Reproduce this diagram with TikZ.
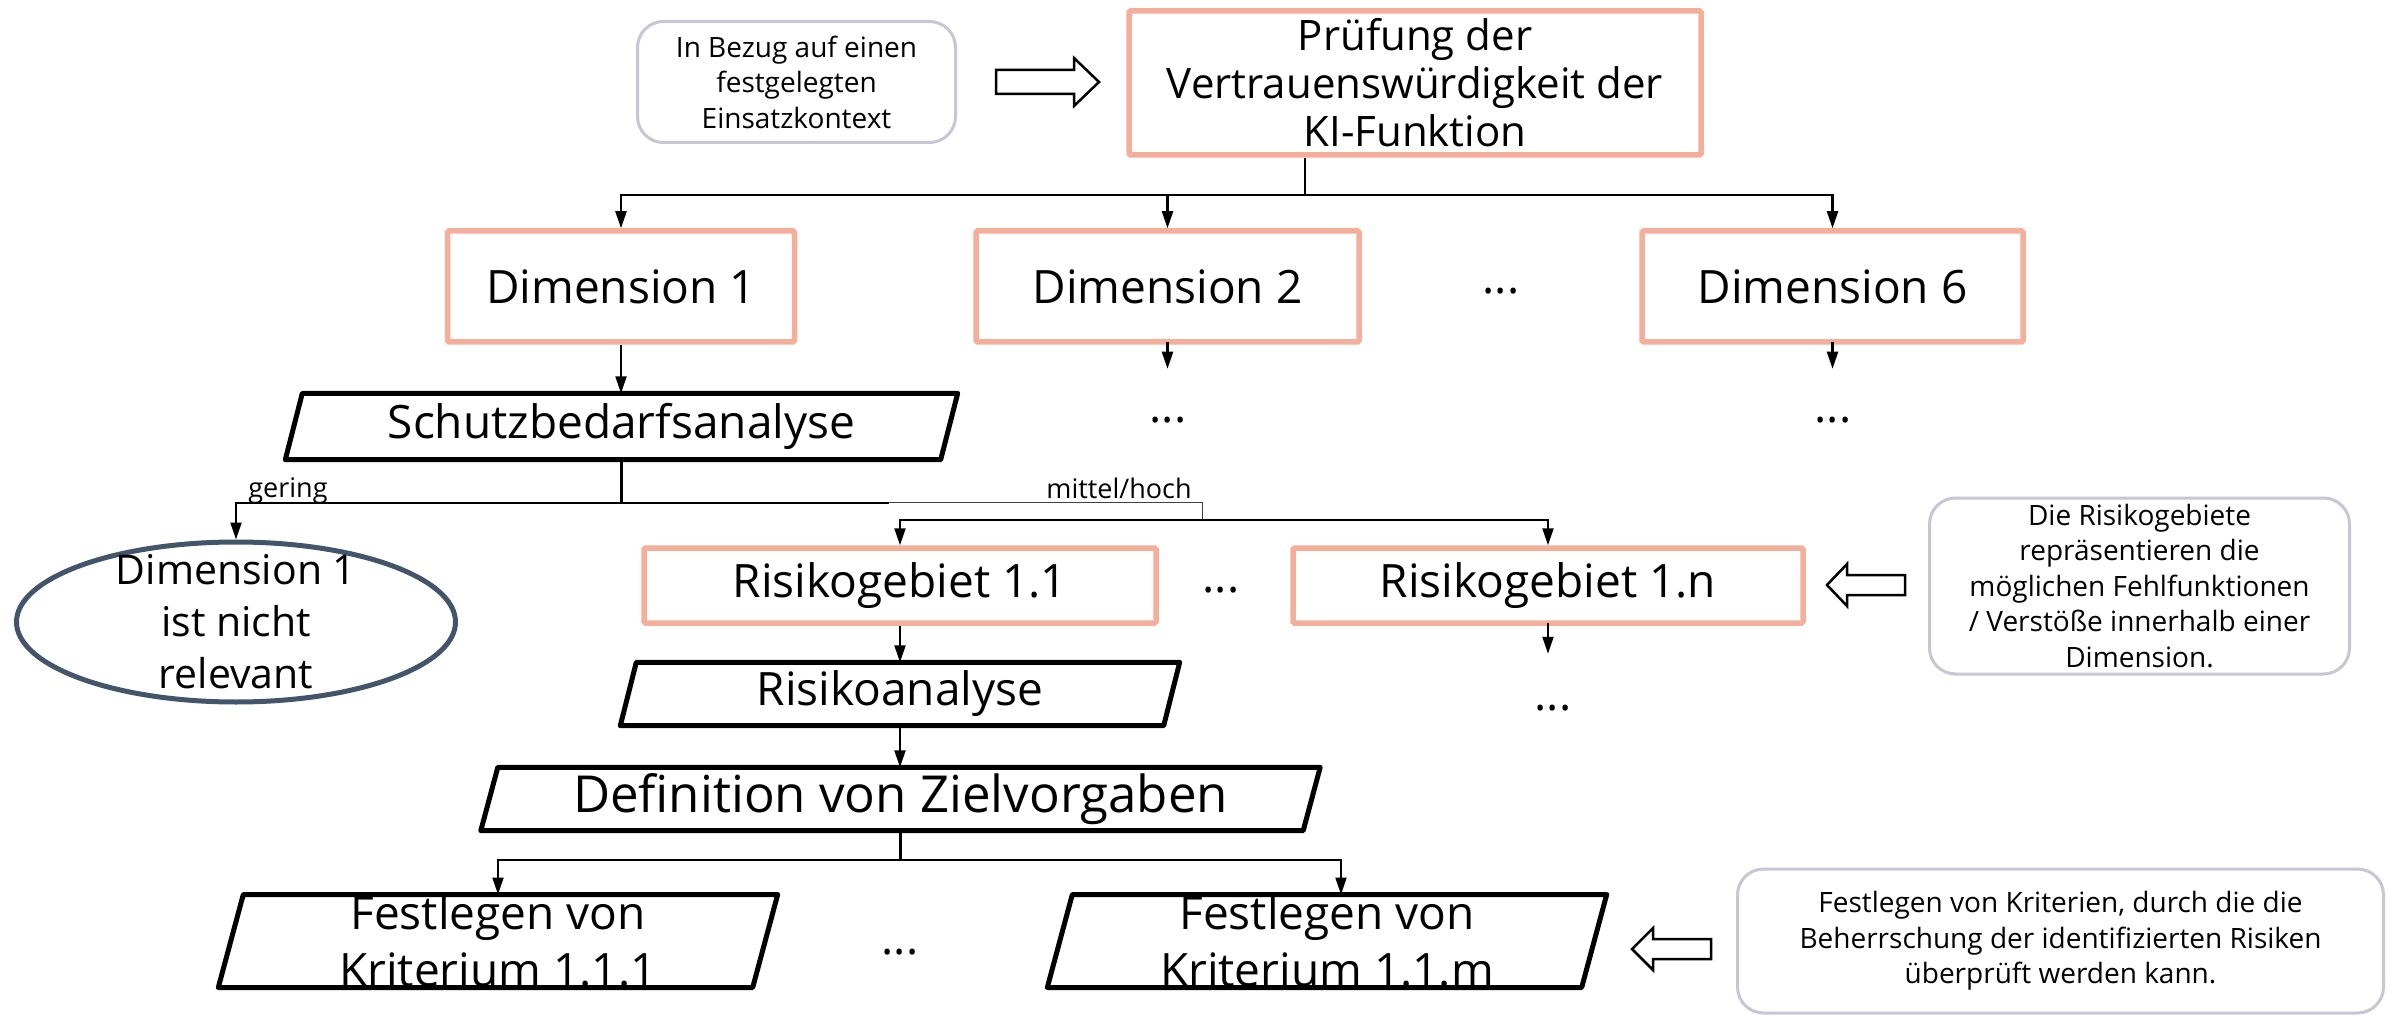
\documentclass[tikz,border=0pt]{standalone}
\usepackage{fontspec}
\setmainfont{Open Sans}
\usetikzlibrary{arrows.meta,shapes.geometric}
\definecolor{salmon}{HTML}{F4AF9B}
\definecolor{slate}{HTML}{44546A}
\definecolor{notegray}{HTML}{C6C6D6}
\newcommand\fBig{\fontsize{46}{55}\selectfont}
\newcommand\fDef{\fontsize{51}{58}\selectfont}
\newcommand\fTop{\fontsize{42}{48}\selectfont}
\newcommand\fEll{\fontsize{41}{52}\selectfont}
\newcommand\fFk{\fontsize{46}{57}\selectfont}
\newcommand\fNote{\fontsize{28}{35.5}\selectfont}
\newcommand\fLab{\fontsize{27}{32}\selectfont}
\begin{document}
\begin{tikzpicture}[x=1pt,y=-1pt,
  conn/.style={line width=2.2pt,black},
  thinconn/.style={line width=1.4pt,black!75},
  arr/.style={conn,-{Triangle[length=17pt,width=11pt]}},
  sbox/.style={draw=salmon,line width=5.5pt,inner sep=0pt,align=center,font=\fBig,rounded corners=1.5pt},
  pnode/.style={inner sep=0pt,align=center,font=\fBig},
  pline/.style={line width=5pt,line join=round,black},
  note/.style={draw=notegray,line width=3pt,rounded corners=26pt,inner sep=0pt,align=center,font=\fNote},
  hollow/.style={draw=black,line width=2.5pt,fill=white,line join=miter},
  dotsn/.style={font=\fBig,inner sep=0pt},
  lab/.style={font=\fLab,inner sep=0pt}
]
\useasboundingbox[fill=white] (0,0) rectangle (2402,1016);

% notes
\node[note,minimum width=318pt,minimum height=121pt] (n1) at (796.5,82) {In Bezug auf einen\\festgelegten\\Einsatzkontext};
\node[note,minimum width=420pt,minimum height=176pt] (n2) at (2139.5,586) {Die Risikogebiete\\repräsentieren die\\möglichen Fehlfunktionen\\/ Verstöße innerhalb einer\\Dimension.};
\node[note,minimum width=646pt,minimum height=144pt] (n3) at (2060.5,941) {Festlegen von Kriterien, durch die die\\Beherrschung der identifizierten Risiken\\überprüft werden kann.};

% top box
\node[sbox,font=\fTop,minimum width=572pt,minimum height=144pt] (top) at (1415,83) {Prüfung der\\Vertrauenswürdigkeit der\\KI-Funktion};

% dimensions
\node[sbox,minimum width=347pt,minimum height=111pt] (d1) at (621,286.5) {Dimension 1};
\node[sbox,minimum width=383pt,minimum height=111pt] (d2) at (1167.5,286.5) {Dimension 2};
\node[sbox,minimum width=381pt,minimum height=111pt] (d6) at (1832.5,286.5) {Dimension 6};
\node[dotsn] (ddots) at (1501,291) {...};
\node[dotsn] (d2dots) at (1168,420) {...};
\node[dotsn] (d6dots) at (1833,420) {...};

% Schutzbedarfsanalyse
\node[pnode,minimum width=655pt,minimum height=66pt] (schutz) at (621.5,426.5) {Schutzbedarfsanalyse};

% ellipse
\node[ellipse,draw=slate,line width=5pt,minimum width=439pt,minimum height=160pt,inner sep=0pt] (ell) at (236,622) {};
\node[align=center,font=\fEll,inner sep=0pt] (elltext) at (ell.center) {Dimension 1\\ist nicht\\relevant};

% Risikogebiete
\node[sbox,minimum width=512pt,minimum height=75pt] (r11) at (900,585.5) {Risikogebiet 1.1};
\node[sbox,minimum width=510pt,minimum height=75pt] (r1n) at (1548,585.5) {Risikogebiet 1.n};
\node[dotsn] (rdots) at (1221,590) {...};
\node[dotsn] (r1ndots) at (1553,708) {...};

% analysis chain
\node[pnode,minimum width=543pt,minimum height=63pt] (risk) at (900,694) {Risikoanalyse};
\node[pnode,font=\fDef,minimum width=822pt,minimum height=63pt] (defi) at (900.5,799) {Definition von Zielvorgaben};
\node[pnode,font=\fFk,minimum width=534pt,minimum height=91pt] (fk1) at (498,941) {Festlegen von\\Kriterium 1.1.1};
\node[pnode,font=\fFk,minimum width=534pt,minimum height=91pt] (fkm) at (1327,941) {Festlegen von\\Kriterium 1.1.m};
\node[dotsn] (fdots) at (900,952) {...};

% parallelogram outlines
\foreach \n/\s in {schutz/8.5,risk/8,defi/8.5,fk1/12.5,fkm/12.5}{
  \draw[pline] ([xshift=\s pt]\n.north west) -- ([xshift=\s pt]\n.north east)
     -- ([xshift=-\s pt]\n.south east) -- ([xshift=-\s pt]\n.south west) -- cycle;
}

% labels
\node[lab] (gering) at (288,491) {gering};
\node[lab] (mittel) at (1119,488) {mittel/hoch};

% connectors: top -> dimensions
\draw[conn] ([xshift=-110pt]top.south) -- ++(0,37) coordinate (tb);
\draw[arr] (tb) -| (d1.north);
\draw[arr] (tb) -| (d2.north);
\draw[arr] (tb) -| (d6.north);
\draw[arr] ([yshift=3pt]d2.south) -- ++(0,27);
\draw[arr] ([yshift=3pt]d6.south) -- ++(0,27);

% dimension 1 -> Schutzbedarfsanalyse
\draw[arr] (d1.south) -- (d1.south |- schutz.north);

% Schutzbedarfsanalyse branches
\draw[conn] (schutz.south) -- ++(0,43) coordinate (sb);
\draw[arr] (sb) -| (ell.north);
\draw[conn] (sb) -- ++(267,0) coordinate (sm);
\draw[thinconn] (sm) -- ++(314,0) -- ++(0,17) coordinate (rb);
\draw[arr] (rb) -| (r11.north);
\draw[arr] (rb) -| (r1n.north);
\draw[arr] ([yshift=3pt]r1n.south) -- ++(0,31);

% chain
\draw[arr] (r11.south) -- (r11.south |- risk.north);
\draw[arr] (risk.south) -- (risk.south |- defi.north);
\draw[conn] (defi.south) -- ++(0,29) coordinate (db);
\draw[arr] (db) -| (fk1.north);
\draw[arr] (db) -| ([xshift=14pt]fkm.north);

% hollow block arrows
\draw[hollow] (996,70) -- (1074,70) -- (1074,58) -- (1099,82) -- (1074,106) -- (1074,94) -- (996,94) -- cycle;
\draw[hollow] (1905,575) -- (1847,575) -- (1847,564) -- (1827,585) -- (1847,606) -- (1847,595) -- (1905,595) -- cycle;
\draw[hollow] (1711,939) -- (1653,939) -- (1653,928) -- (1632,949) -- (1653,970) -- (1653,959) -- (1711,959) -- cycle;
\end{tikzpicture}
\end{document}
